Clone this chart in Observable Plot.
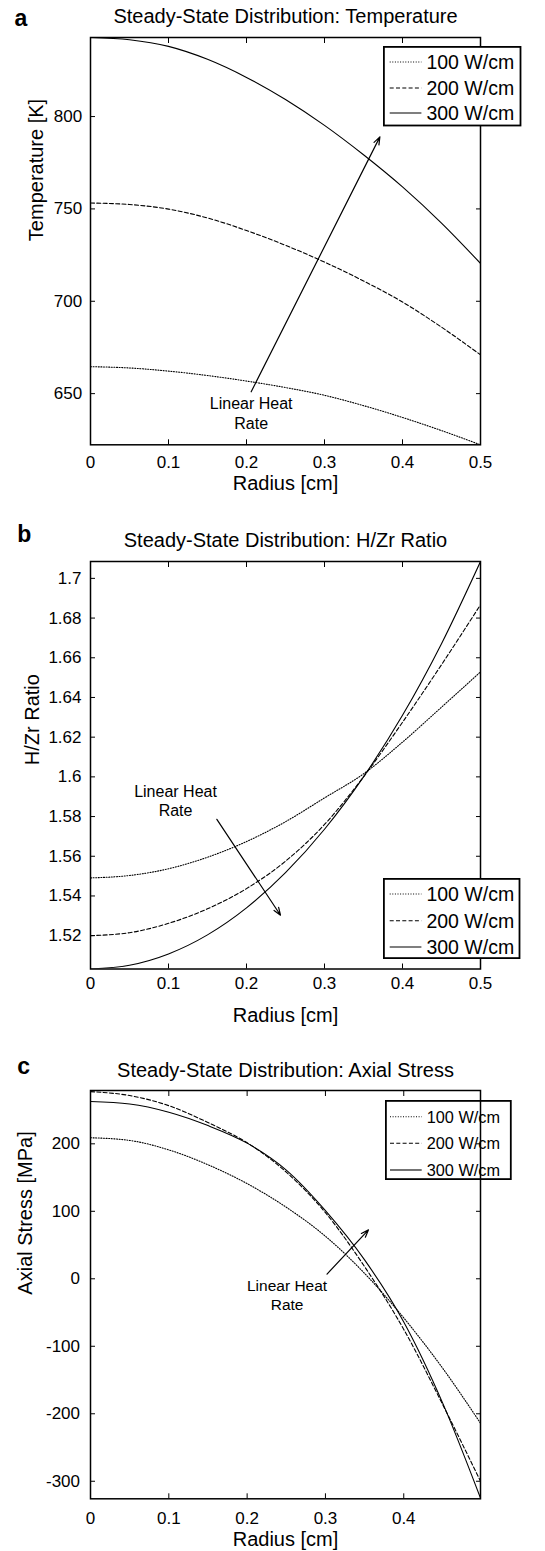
<!DOCTYPE html>
<html><head><meta charset="utf-8">
<script src="https://cdn.jsdelivr.net/npm/d3@7"></script>
<script src="https://cdn.jsdelivr.net/npm/@observablehq/plot@0.6"></script>
<style>
body{margin:0;background:#fff;}
#wrap{position:relative;width:545px;height:1551px;font-family:"Liberation Sans",Arial,Helvetica,sans-serif;overflow:hidden;}
.panel{position:absolute;left:0;z-index:1;}
</style></head><body><div id="wrap"></div>
<script>
// ---------- data ----------
const seriesNames = ["100 W/cm", "200 W/cm", "300 W/cm"];

const radius = [0, 0.05, 0.1, 0.15, 0.2, 0.25, 0.3, 0.35, 0.4, 0.45, 0.5];
const temp100 = [664.6, 663.9, 662.2, 659.8, 656.8, 653.3, 649.1, 643.5, 637.1, 630.0, 622.3];
const temp200 = [753.2, 752.4, 749.9, 745.1, 738.3, 730.3, 721.2, 711.0, 699.6, 686.0, 671.0];
const temp300 = [842.8, 841.6, 838.0, 831.0, 821.2, 809.2, 795.2, 779.3, 761.9, 742.3, 720.5];

const hzr100 = [1.5491, 1.5503, 1.5537, 1.5595, 1.5674, 1.5774, 1.5894, 1.6015, 1.6175, 1.6351, 1.6529];
const hzr200 = [1.5200, 1.5215, 1.5262, 1.5335, 1.5437, 1.5575, 1.5760, 1.6000, 1.6275, 1.6565, 1.6867];
const hzr300 = [1.5032, 1.5051, 1.5108, 1.5204, 1.5340, 1.5517, 1.5736, 1.6000, 1.6310, 1.6671, 1.7085];

const radiusC = [0, 0.05, 0.1, 0.15, 0.2, 0.25, 0.3, 0.35, 0.4, 0.45, 0.498];
const stress100 = [209, 205, 191, 169, 141, 106, 63, 8, -58, -133, -214];
const stress200 = [277.3, 271.5, 256.5, 231.5, 201.5, 158, 98, 18, -75, -187, -300];
const stress300 = [262.6, 259, 246.8, 227, 201, 161, 101, 28, -64, -185, -325];

const xTicksAB = [0, 0.1, 0.2, 0.3, 0.4, 0.5];
const xTicksC = [0, 0.1, 0.2, 0.3, 0.4];
const yTicksA = [650, 700, 750, 800];
const yTicksB = [1.52, 1.54, 1.56, 1.58, 1.6, 1.62, 1.64, 1.66, 1.68, 1.7];
const yTicksC = [-300, -200, -100, 0, 100, 200];

const titles = ["Steady-State Distribution: Temperature", "Steady-State Distribution: H/Zr Ratio", "Steady-State Distribution: Axial Stress"];
const yLabels = ["Temperature [K]", "H/Zr Ratio", "Axial Stress [MPa]"];
const xLabel = "Radius [cm]";
const panelLetters = ["a", "b", "c"];
const annotText = "Linear Heat\nRate";

const arrowA = [{x1: 0.206, y1: 651, x2: 0.371, y2: 789}];
const labelA = [{r: 0.206, v: 639.7}];
const arrowB = [{x1: 0.162, y1: 1.5786, x2: 0.2436, y2: 1.5303}];
const labelB = [{r: 0.109, v: 1.5883}];
const arrowC = [{x1: 0.302, y1: 7, x2: 0.355, y2: 72.5}];
const labelC = [{r: 0.251, v: -22.8}];

// ---------- helpers ----------
const FONT = "'Liberation Sans', Arial, Helvetica, sans-serif";
const dashes = ["1,1.6", "4,2.3", null];
function tidy(xs, lists) {
  const out = [];
  lists.forEach((ys, k) => xs.forEach((x, i) => out.push({r: x, v: ys[i], s: seriesNames[k]})));
  return out;
}
const wrap = document.getElementById("wrap");

function panel(cfg) {
  const data = tidy(cfg.xs, cfg.ys);
  const fmt = d => String(d);
  const blank = () => "";
  const marks = [];
  seriesNames.forEach((name, i) => {
    marks.push(Plot.line(data.filter(d => d.s === name), {
      x: "r", y: "v", stroke: "black", strokeWidth: 1.1,
      strokeDasharray: dashes[i], curve: "monotone-x", clip: true
    }));
  });
  marks.push(
    Plot.frame({stroke: "black", strokeWidth: 1.5}),
    Plot.axisX({anchor: "bottom", ticks: cfg.xt, tickSize: 0, tickPadding: cfg.xpad, tickFormat: fmt, fontSize: 17, label: null}),
    Plot.axisX({anchor: "bottom", ticks: cfg.xt, tickSize: -5, tickFormat: blank, label: null}),
    Plot.axisX({anchor: "top", ticks: cfg.xt, tickSize: -5, tickFormat: blank, label: null}),
    Plot.axisY({anchor: "left", ticks: cfg.yt, tickSize: 0, tickPadding: cfg.ypad, tickFormat: fmt, fontSize: 17, label: null}),
    Plot.axisY({anchor: "left", ticks: cfg.yt, tickSize: -5, tickFormat: blank, label: null}),
    Plot.axisY({anchor: "right", ticks: cfg.yt, tickSize: -5, tickFormat: blank, label: null}),
    Plot.text([cfg.title], {text: d => d, frameAnchor: "top", dy: cfg.titleDy, lineAnchor: "bottom", fontSize: 20}),
    Plot.text([cfg.letter], {text: d => d, frameAnchor: "top-left", dx: cfg.letterDx, dy: cfg.letterDy, textAnchor: "start", lineAnchor: "bottom", fontSize: 23, fontWeight: "bold"}),
    Plot.text([xLabel], {text: d => d, frameAnchor: "bottom", dy: cfg.xlabDy, lineAnchor: "bottom", fontSize: 20}),
    Plot.text([cfg.ylabel], {text: d => d, frameAnchor: "left", dx: cfg.ylabDx, rotate: -90, lineAnchor: "middle", fontSize: 20}),
    Plot.arrow(cfg.arrow, {x1: "x1", y1: "y1", x2: "x2", y2: "y2", stroke: "black", strokeWidth: 1.2, headLength: 10, headAngle: 40}),
    Plot.text(cfg.label, {x: "r", y: "v", text: () => annotText, fontSize: cfg.annotSize, lineHeight: 1.22, lineAnchor: "middle"})
  );
  const svg = Plot.plot({
    width: 545, height: cfg.h,
    marginLeft: 90, marginRight: 65, marginTop: cfg.mt, marginBottom: cfg.mb,
    x: {domain: cfg.xd}, y: {domain: cfg.yd},
    style: {fontFamily: FONT, background: "transparent", color: "black", overflow: "visible"},
    marks
  });
  const div = document.createElement("div");
  div.className = "panel";
  div.style.top = cfg.top + "px";
  div.appendChild(svg);
  wrap.appendChild(div);
}

function legend(x, y, w, h, rows, font, z) {
  const div = d3.select(wrap).append("div")
    .style("position", "absolute").style("left", x + "px").style("top", y + "px").style("z-index", z);
  const svg = div.append("svg").attr("width", w).attr("height", h).style("display", "block")
    .style("font-family", FONT);
  svg.append("rect").attr("x", 0.9).attr("y", 0.9).attr("width", w - 1.8).attr("height", h - 1.8)
    .attr("fill", "white").attr("stroke", "black").attr("stroke-width", 1.8);
  seriesNames.forEach((name, i) => {
    svg.append("line").attr("x1", 390 - x).attr("x2", 421.7 - x).attr("y1", rows[i]).attr("y2", rows[i])
      .attr("stroke", "black").attr("stroke-width", 1.1).attr("stroke-dasharray", dashes[i]);
    svg.append("text").attr("x", 426.7 - x).attr("y", rows[i]).attr("dy", "0.36em")
      .attr("font-size", font).attr("fill", "black").text(name);
  });
}

// ---------- panels ----------
panel({top: 0, h: 505, mt: 37, mb: 60.7, xs: radius, ys: [temp100, temp200, temp300],
  xd: [0, 0.5], yd: [622.3, 842.8], xt: xTicksAB, yt: yTicksA, xpad: 10.7, ypad: 8.3,
  title: titles[0], titleDy: -14.3, letter: panelLetters[0], letterDx: -76, letterDy: -12,
  xlabDy: 44.7, ylabel: yLabels[0], ylabDx: -53.5, arrow: arrowA, label: labelA, annotSize: 16});

panel({top: 505, h: 535, mt: 56, mb: 71.5, xs: radius, ys: [hzr100, hzr200, hzr300],
  xd: [0, 0.5], yd: [1.5032, 1.7085], xt: xTicksAB, yt: yTicksB, xpad: 8, ypad: 9,
  title: titles[1], titleDy: -14.3, letter: panelLetters[1], letterDx: -73.3, letterDy: -19.3,
  xlabDy: 53.2, ylabel: yLabels[1], ylabDx: -58.3, arrow: arrowB, label: labelB, annotSize: 16});

panel({top: 1040, h: 511, mt: 50, mb: 52.7, xs: radiusC, ys: [stress100, stress200, stress300],
  xd: [0, 0.498], yd: [-326, 279], xt: xTicksC, yt: yTicksC, xpad: 13.4, ypad: 10.5,
  title: titles[2], titleDy: -13.3, letter: panelLetters[2], letterDx: -73.3, letterDy: -17,
  xlabDy: 46.7, ylabel: yLabels[2], ylabDx: -65, arrow: arrowC, label: labelC, annotSize: 15.5});

// ---------- legends ----------
legend(383.3, 46.3, 138.4, 80.4, [16, 42, 67], 19.5, 5);
legend(383.3, 878.3, 137.4, 81, [16, 42.7, 69], 19.5, 5);
legend(385, 1100, 126.7, 80, [16.7, 43.3, 70], 16.3, 0);
</script>
</body></html>
